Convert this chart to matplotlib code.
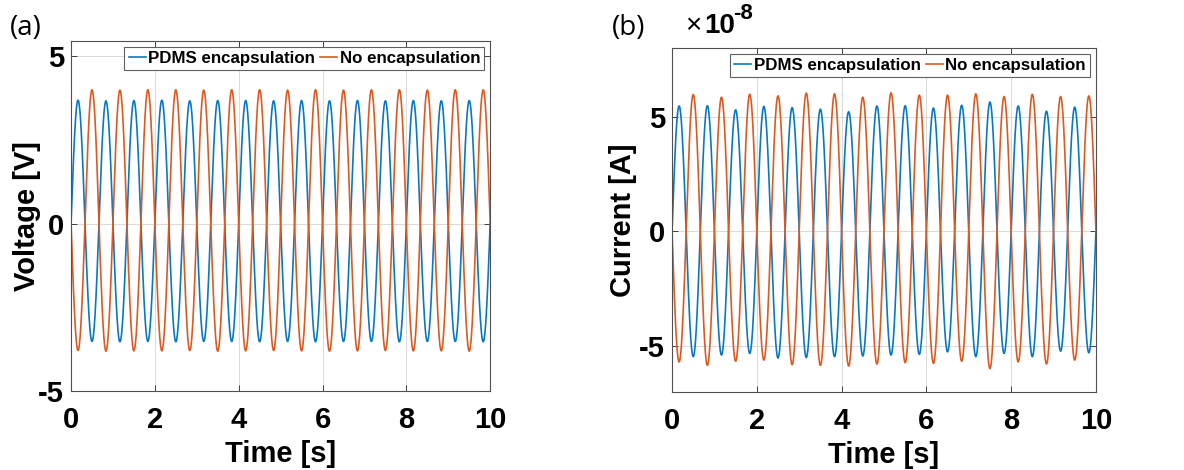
import numpy as np
import matplotlib
matplotlib.use("Agg")
import matplotlib.pyplot as plt
from matplotlib.ticker import FuncFormatter

plt.rcParams['font.family'] = ['Liberation Sans', 'DejaVu Sans']
plt.rcParams['axes.unicode_minus'] = False

# signal: 1.5 Hz, 15 cycles over 10 s
freq_hz = 1.5
t_end = 10.0

# (a) voltage, one value per cycle [V]
v_pdms_peaks = [3.68, 3.66, 3.67, 3.68, 3.66, 3.67, 3.67, 3.66, 3.67, 3.66, 3.67, 3.66, 3.67, 3.66, 3.67]
v_pdms_troughs = [-3.52, -3.53, -3.52, -3.53, -3.52, -3.52, -3.53, -3.52, -3.53, -3.52, -3.52, -3.53, -3.52, -3.52, -3.53]
v_none_peaks = [3.99, 3.98, 3.99, 3.99, 3.98, 3.99, 3.99, 3.98, 3.99, 3.98, 3.99, 3.99, 3.98, 3.99, 3.99]
v_none_troughs = [-3.79, -3.81, -3.80, -3.80, -3.79, -3.81, -3.80, -3.79, -3.80, -3.81, -3.80, -3.79, -3.80, -3.80, -3.81]

# (b) current, one value per cycle [x1e-8 A]
i_pdms_peaks = [5.47, 5.48, 5.30, 5.45, 5.40, 5.33, 5.22, 5.47, 5.48, 5.38, 5.50, 5.64, 5.47, 5.24, 5.42]
i_pdms_troughs = [-5.46, -5.39, -5.32, -5.52, -5.50, -5.46, -5.43, -5.39, -5.36, -5.25, -5.46, -5.32, -5.46, -5.22, -5.29]
i_none_peaks = [5.97, 5.85, 5.98, 5.91, 6.03, 6.00, 5.85, 6.04, 5.94, 5.94, 6.00, 5.88, 5.98, 5.88, 5.91]
i_none_troughs = [-5.69, -5.84, -5.66, -5.61, -5.81, -5.84, -5.87, -5.78, -5.72, -5.75, -5.66, -5.98, -5.69, -5.78, -5.61]

labels = ["PDMS encapsulation", "No encapsulation"]
blue = "#0a78c0"
orange = "#dc5a22"


def wave(t, peaks, troughs, rising=True):
    # each half cycle is a sine lobe scaled to the read peak/trough
    half = 0.5 / freq_hz
    h = np.minimum((t / half).astype(int), 2 * len(peaks) - 1)
    lobe = np.abs(np.sin(2 * np.pi * freq_hz * t))
    pk = np.array(peaks)[h // 2]
    tr = np.array(troughs)[h // 2]
    first = (h % 2 == 0) if rising else (h % 2 == 1)
    return np.where(first, pk * lobe, tr * lobe)


t = np.linspace(0, t_end, 4001)

fig = plt.figure(figsize=(11.84, 4.70), dpi=100)
ax1 = fig.add_axes([0.060, 0.168, 0.354, 0.745])
ax2 = fig.add_axes([0.5676, 0.166, 0.358, 0.732])

ax1.plot(t, wave(t, v_pdms_peaks, v_pdms_troughs, True), color=blue, lw=1.2, label=labels[0])
ax1.plot(t, wave(t, v_none_peaks, v_none_troughs, False), color=orange, lw=1.2, label=labels[1])
ax1.set_ylim(-5, 5.45)
ax1.set_yticks([-5, 0, 5])
ax1.set_ylabel("Voltage [V]", fontsize=21, fontweight='bold')
ax1.yaxis.set_label_coords(-0.072, 0.5)

scale = 1e-8
ax2.plot(t, wave(t, i_pdms_peaks, i_pdms_troughs, True) * scale, color=blue, lw=1.2, label=labels[0])
ax2.plot(t, wave(t, i_none_peaks, i_none_troughs, False) * scale, color=orange, lw=1.2, label=labels[1])
ax2.set_ylim(-7e-8, 8e-8)
ax2.set_yticks([-5e-8, 0, 5e-8])
ax2.yaxis.set_major_formatter(FuncFormatter(lambda v, p: "%g" % round(v / scale, 6)))
ax2.set_ylabel("Current [A]", fontsize=21, fontweight='bold')
ax2.yaxis.set_label_coords(-0.082, 0.5)
ax2.text(0.03, 1.025, "\u00d7", transform=ax2.transAxes, fontsize=20, va='bottom', ha='left')
ax2.text(0.075, 1.025, "10", transform=ax2.transAxes, fontsize=20, va='bottom', ha='left', fontweight='bold')
ax2.text(0.143, 1.07, "-8", transform=ax2.transAxes, fontsize=16, va='bottom', ha='left', fontweight='bold')

for ax in (ax1, ax2):
    ax.set_xlim(0, 10)
    ax.set_xticks([0, 2, 4, 6, 8, 10])
    ax.set_xlabel("Time [s]", fontsize=21, fontweight='bold', labelpad=4)
    ax.grid(True, color='#c0c0c0', lw=0.7, alpha=0.6)
    ax.tick_params(direction='in', top=True, right=True, length=4, width=0.7,
                   labelsize=21, color='#404040')
    ax.tick_params(axis='x', pad=11)
    ax.tick_params(axis='y', pad=5)
    for lab in ax.get_xticklabels() + ax.get_yticklabels():
        lab.set_fontweight('bold')
    for s in ax.spines.values():
        s.set_color('#505050')
        s.set_linewidth(0.8)
    leg = ax.legend(loc='upper right', ncol=2, handlelength=1.0,
                    handletextpad=0.15, columnspacing=0.3, borderpad=0.25,
                    borderaxespad=0.35, fancybox=False, framealpha=1,
                    edgecolor='#606060', prop={'weight': 'bold', 'size': 12.2})
    leg.get_frame().set_linewidth(0.8)

fig.text(0.008, 0.925, "(a)", fontsize=20, family='Open Sans')
fig.text(0.517, 0.925, "(b)", fontsize=20, family='Open Sans')

fig.savefig("out.png", dpi=100)
